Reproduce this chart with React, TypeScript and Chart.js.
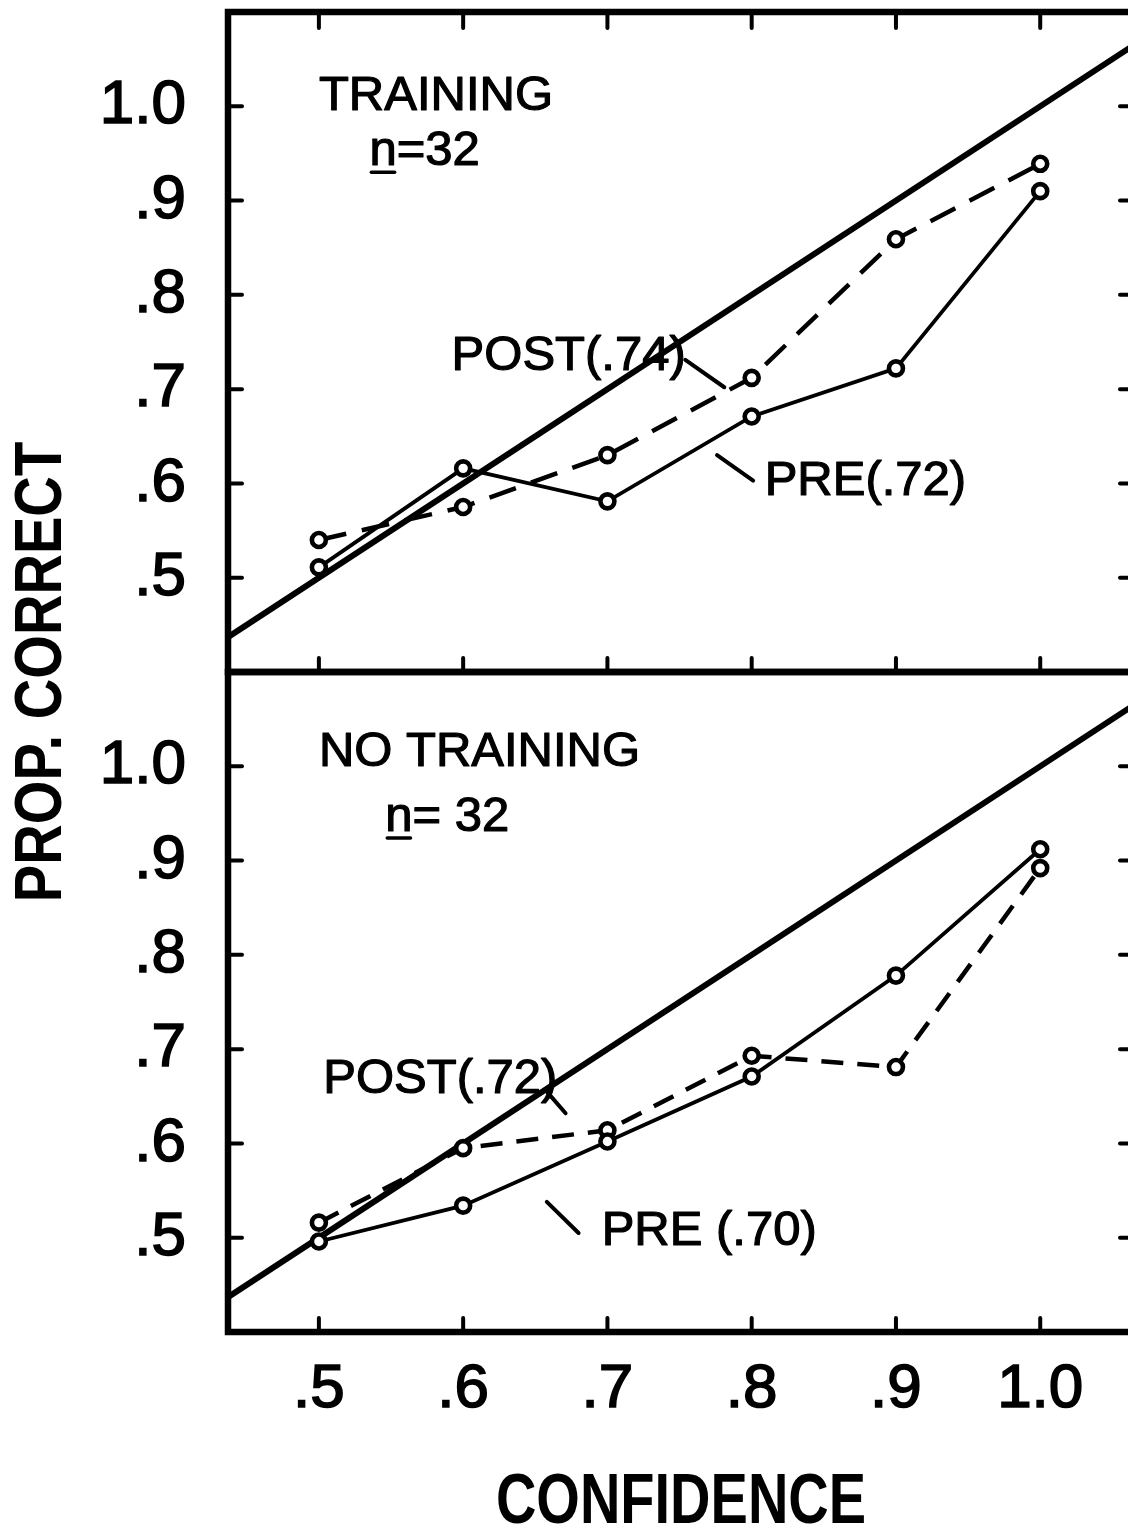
import React, { useEffect, useRef } from 'react';
import { Chart, registerables } from 'chart.js';

Chart.register(...registerables);

// ---------------- data ----------------
const CONFIDENCE = [0.5, 0.6, 0.7, 0.8, 0.9, 1.0];
const TRAINING_PRE = [0.511, 0.616, 0.581, 0.671, 0.722, 0.91];
const TRAINING_POST = [0.54, 0.575, 0.63, 0.712, 0.859, 0.939];
const NO_TRAINING_PRE = [0.496, 0.534, 0.602, 0.671, 0.778, 0.912];
const NO_TRAINING_POST = [0.516, 0.595, 0.614, 0.693, 0.681, 0.892];
const CALIBRATION = [0.4, 1.1]; // perfect calibration (proportion correct = confidence)

const X_TICKS = [0.5, 0.6, 0.7, 0.8, 0.9, 1.0];
const X_TICK_LABELS = ['.5', '.6', '.7', '.8', '.9', '1.0'];
const Y_TICKS = [0.5, 0.6, 0.7, 0.8, 0.9, 1.0];
const Y_TICK_LABELS = ['.5', '.6', '.7', '.8', '.9', '1.0'];

const X_TITLE = 'CONFIDENCE';
const Y_TITLE = 'PROP. CORRECT';
const PANEL_TITLES = ['TRAINING', 'NO TRAINING'];
const PANEL_N = ['n=32', 'n= 32'];
const TOP_LABELS = ['POST(.74)', 'PRE(.72)'];
const BOTTOM_LABELS = ['POST(.72)', 'PRE (.70)'];

// ---------------- styling / layout ----------------
const FONT = "'Liberation Sans', Arial, sans-serif";
const CANVAS_W = 1150;
const CANVAS_H = 1526;

// annotation placement (in data units of each panel)
const TEXT_NOTES = [
  { axis: 'yTop', text: PANEL_TITLES[0], x: 0.5, y: 1.015 },
  { axis: 'yTop', text: PANEL_N[0], x: 0.535, y: 0.956, underlineFirst: true },
  { axis: 'yTop', text: TOP_LABELS[0], x: 0.592, y: 0.739 },
  { axis: 'yTop', text: TOP_LABELS[1], x: 0.809, y: 0.606 },
  { axis: 'yBot', text: PANEL_TITLES[1], x: 0.5, y: 1.019 },
  { axis: 'yBot', text: PANEL_N[1], x: 0.546, y: 0.95, underlineFirst: true },
  { axis: 'yBot', text: BOTTOM_LABELS[0], x: 0.503, y: 0.672 },
  { axis: 'yBot', text: BOTTOM_LABELS[1], x: 0.696, y: 0.511 },
];
const LEADERS = [
  { axis: 'yTop', x1: 0.754, y1: 0.731, x2: 0.781, y2: 0.702 },
  { axis: 'yTop', x1: 0.776, y1: 0.63, x2: 0.801, y2: 0.603 },
  { axis: 'yBot', x1: 0.658, y1: 0.655, x2: 0.671, y2: 0.632 },
  { axis: 'yBot', x1: 0.658, y1: 0.538, x2: 0.68, y2: 0.505 },
];

const pts = (xs: number[], ys: number[]) => xs.map((x, i) => ({ x, y: ys[i] }));

const decorPlugin = {
  id: 'decor',
  afterDraw(chart: any) {
    const ctx = chart.ctx as CanvasRenderingContext2D;
    const xs = chart.scales.x;
    const panels = [chart.scales.yTop, chart.scales.yBot];
    const { left, right } = chart.chartArea;
    const line = (x1: number, y1: number, x2: number, y2: number) => {
      ctx.beginPath();
      ctx.moveTo(x1, y1);
      ctx.lineTo(x2, y2);
      ctx.stroke();
    };
    ctx.save();
    ctx.strokeStyle = '#000';
    ctx.fillStyle = '#000';
    ctx.lineCap = 'round';

    // panel frames
    ctx.lineWidth = 6.5;
    panels.forEach((p: any) => ctx.strokeRect(left, p.top, right - left, p.bottom - p.top));

    // inward tick marks
    ctx.lineWidth = 4;
    panels.forEach((p: any, i: number) => {
      Y_TICKS.forEach((v) => {
        const y = p.getPixelForValue(v);
        line(left, y, left + 14, y);
        line(right - 14, y, right, y);
      });
      X_TICKS.forEach((v) => {
        const x = xs.getPixelForValue(v);
        line(x, p.bottom, x, p.bottom - 14);
        if (i === 0) line(x, p.top, x, p.top + 16);
      });
    });

    // leader strokes
    ctx.lineWidth = 4;
    LEADERS.forEach((l) => {
      const ys = chart.scales[l.axis];
      line(xs.getPixelForValue(l.x1), ys.getPixelForValue(l.y1), xs.getPixelForValue(l.x2), ys.getPixelForValue(l.y2));
    });

    // annotation texts
    const size = 49;
    ctx.font = `${size}px ${FONT}`;
    ctx.textAlign = 'left';
    ctx.textBaseline = 'alphabetic';
    ctx.lineJoin = 'round';
    TEXT_NOTES.forEach((t) => {
      const ys = chart.scales[t.axis];
      const x = xs.getPixelForValue(t.x);
      const yc = ys.getPixelForValue(t.y);
      const base = yc + size * 0.358;
      ctx.lineWidth = 1.2;
      ctx.fillText(t.text, x, base);
      ctx.strokeText(t.text, x, base);
      if (t.underlineFirst) {
        const w = ctx.measureText(t.text[0]).width;
        ctx.lineWidth = 3.5;
        line(x + 2, base + 7, x + w - 2, base + 7);
      }
    });

    // x axis title
    const xSize = 70;
    ctx.font = `bold ${xSize}px ${FONT}`;
    ctx.textAlign = 'center';
    ctx.save();
    ctx.translate((left + right) / 2, 1498 + xSize * 0.358);
    ctx.scale(0.8, 1);
    ctx.fillText(X_TITLE, 0, 0);
    ctx.restore();

    // y axis title
    const ySize = 66;
    ctx.font = `bold ${ySize}px ${FONT}`;
    ctx.save();
    ctx.translate(37, (panels[0].top + panels[1].bottom) / 2);
    ctx.rotate(-Math.PI / 2);
    ctx.scale(0.85, 1);
    ctx.fillText(Y_TITLE, 0, ySize * 0.358);
    ctx.restore();

    ctx.restore();
  },
};

const yAxis = () => ({
  type: 'linear',
  position: 'left',
  stack: 'panels',
  stackWeight: 1,
  min: 0.4,
  max: 1.1,
  grid: { display: false, drawTicks: false },
  border: { display: false },
  afterBuildTicks: (s: any) => {
    s.ticks = Y_TICKS.map((v) => ({ value: v }));
  },
  afterFit: (s: any) => {
    s.width = 228;
    s.paddingTop = 0;
    s.paddingBottom = 0;
  },
  ticks: {
    autoSkip: false,
    padding: 42,
    color: '#000',
    textStrokeColor: '#000',
    textStrokeWidth: 1.6,
    font: { family: FONT, size: 62 },
    callback: (_v: any, i: number) => Y_TICK_LABELS[i],
  },
});

export default function App() {
  const ref = useRef<HTMLCanvasElement | null>(null);

  useEffect(() => {
    if (!ref.current) return;
    const lineDs = (label: string, data: any[], axis: string, extra: any) => ({
      label,
      data,
      yAxisID: axis,
      borderColor: '#000',
      backgroundColor: '#000',
      borderWidth: 3.8,
      tension: 0,
      pointRadius: 7,
      pointBorderWidth: 4.6,
      pointBackgroundColor: '#fff',
      pointBorderColor: '#000',
      fill: false,
      ...extra,
    });
    const ident = CALIBRATION.map((v) => ({ x: v, y: v }));
    const chart = new Chart(ref.current, {
      type: 'line',
      data: {
        datasets: [
          lineDs('Training PRE (.72)', pts(CONFIDENCE, TRAINING_PRE), 'yTop', {}),
          lineDs('Training POST (.74)', pts(CONFIDENCE, TRAINING_POST), 'yTop', { borderDash: [28, 16], borderWidth: 4.5 }),
          lineDs('No training PRE (.70)', pts(CONFIDENCE, NO_TRAINING_PRE), 'yBot', {}),
          lineDs('No training POST (.72)', pts(CONFIDENCE, NO_TRAINING_POST), 'yBot', { borderDash: [22, 14], borderWidth: 4.5 }),
          lineDs('Perfect calibration (top)', ident, 'yTop', { borderWidth: 6, pointRadius: 0 }),
          lineDs('Perfect calibration (bottom)', ident, 'yBot', { borderWidth: 6, pointRadius: 0 }),
        ],
      },
      options: {
        animation: false,
        responsive: false,
        devicePixelRatio: 1,
        events: [],
        layout: { autoPadding: false, padding: { left: 0, top: 12, right: CANVAS_W - 1134, bottom: 0 } },
        plugins: { legend: { display: false }, tooltip: { enabled: false }, title: { display: false } },
        scales: {
          x: {
            type: 'linear',
            position: 'bottom',
            min: 0.437,
            max: 1.065,
            grid: { display: false, drawTicks: false },
            border: { display: false },
            afterBuildTicks: (s: any) => {
              s.ticks = X_TICKS.map((v) => ({ value: v }));
            },
            afterFit: (s: any) => {
              s.height = CANVAS_H - 1332;
              s.paddingLeft = 0;
              s.paddingRight = 0;
            },
            ticks: {
              autoSkip: false,
              maxRotation: 0,
              padding: 21,
              color: '#000',
              textStrokeColor: '#000',
              textStrokeWidth: 1.6,
              font: { family: FONT, size: 62 },
              callback: (_v: any, i: number) => X_TICK_LABELS[i],
            },
          },
          // left boxes are stacked in reverse definition order: yBot first puts yTop on top
          yBot: yAxis(),
          yTop: yAxis(),
        },
      } as any,
      plugins: [decorPlugin],
    });
    return () => chart.destroy();
  }, []);

  return (
    <div
      style={{
        position: 'absolute',
        left: 0,
        top: 0,
        width: 1128,
        height: CANVAS_H,
        overflow: 'hidden',
        background: '#fff',
      }}
    >
      <canvas
        ref={ref}
        width={CANVAS_W}
        height={CANVAS_H}
        style={{ display: 'block', width: CANVAS_W, height: CANVAS_H }}
      />
    </div>
  );
}
